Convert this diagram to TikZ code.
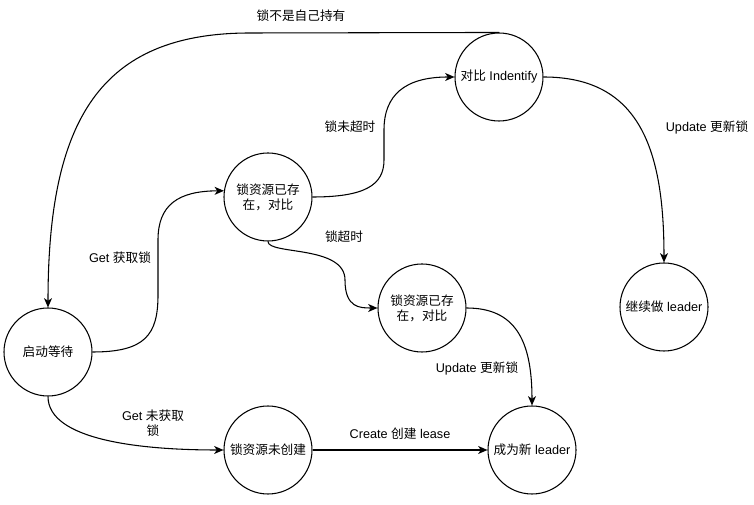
\documentclass[tikz,border=0pt]{standalone}
\usepackage{fontspec}
\setmainfont{Liberation Sans}
\newfontfamily\cjk{Noto Sans CJK SC}
\newcommand{\zh}[1]{{\cjk #1}}
\usetikzlibrary{arrows.meta}

\begin{document}
\begin{tikzpicture}[
        x=0.75pt, y=-0.75pt,
        every node/.style={font=\fontsize{9.5pt}{11.5pt}\selectfont},
        state/.style={circle, draw, line width=0.8pt, minimum size=66pt,
                      inner sep=0pt, align=center},
        arr/.style={-{Stealth[length=7pt, width=6pt, inset=2pt]}, line width=0.8pt},
        lbl/.style={align=center}
      ]
        \useasboundingbox (0,0) rectangle (754,505);

        % states
        \node[state] (wait)       at (48,352)  {\zh{启动等待}};
        \node[state] (exists1)    at (268,197) {\zh{锁资源已存}\\\zh{在，对比}};
        \node[state] (compare)    at (499,77)  {\zh{对比} Indentify};
        \node[state] (exists2)    at (422,308) {\zh{锁资源已存}\\\zh{在，对比}};
        \node[state] (keep)       at (664,307) {\zh{继续做} leader};
        \node[state] (notcreated) at (268,450) {\zh{锁资源未创建}};
        \node[state] (newleader)  at (532,450) {\zh{成为新} leader};

        % transitions
        \draw[arr] (compare.north) -- (250,33) .. controls (100,33) and (48,120) .. (wait.north);
        \draw[arr] (wait.east) .. controls (145,352) and (158,335) .. (158,295)
                   -- (158,240) .. controls (158,205) and (178,191) .. (exists1.172);
        \draw[arr] (exists1.east) .. controls (365,197) and (384,185) .. (384,160)
                   -- (384,130) .. controls (384,95) and (405,77) .. (compare.west);
        \draw[arr] (exists1.south) .. controls (268,255) and (345,245) .. (345,280)
                   .. controls (345,308) and (360,308) .. (exists2.west);
        \draw[arr] (compare.east) .. controls (640,77) and (664,150) .. (keep.north);
        \draw[arr] (exists2.east) .. controls (515,308) and (532,340) .. (newleader.north);
        \draw[arr] (wait.south) .. controls (48,440) and (140,450) .. (notcreated.west);
        \draw[arr] (notcreated) -- (newleader);

        % labels
        \node[lbl] (l1) at (301,16)  {\zh{锁不是自己持有}};
        \node[lbl] (l2) at (350,127) {\zh{锁未超时}};
        \node[lbl] (l3) at (344,237) {\zh{锁超时}};
        \node[lbl] (l4) at (120,258) {Get \zh{获取锁}};
        \node[lbl] (l5) at (707,127) {Update \zh{更新锁}};
        \node[lbl] (l6) at (477,368) {Update \zh{更新锁}};
        \node[lbl] (l7) at (153,423) {Get \zh{未获取}\\\zh{锁}};
        \node[lbl] (l8) at (400,434) {Create \zh{创建} lease};
      \end{tikzpicture}
\end{document}
